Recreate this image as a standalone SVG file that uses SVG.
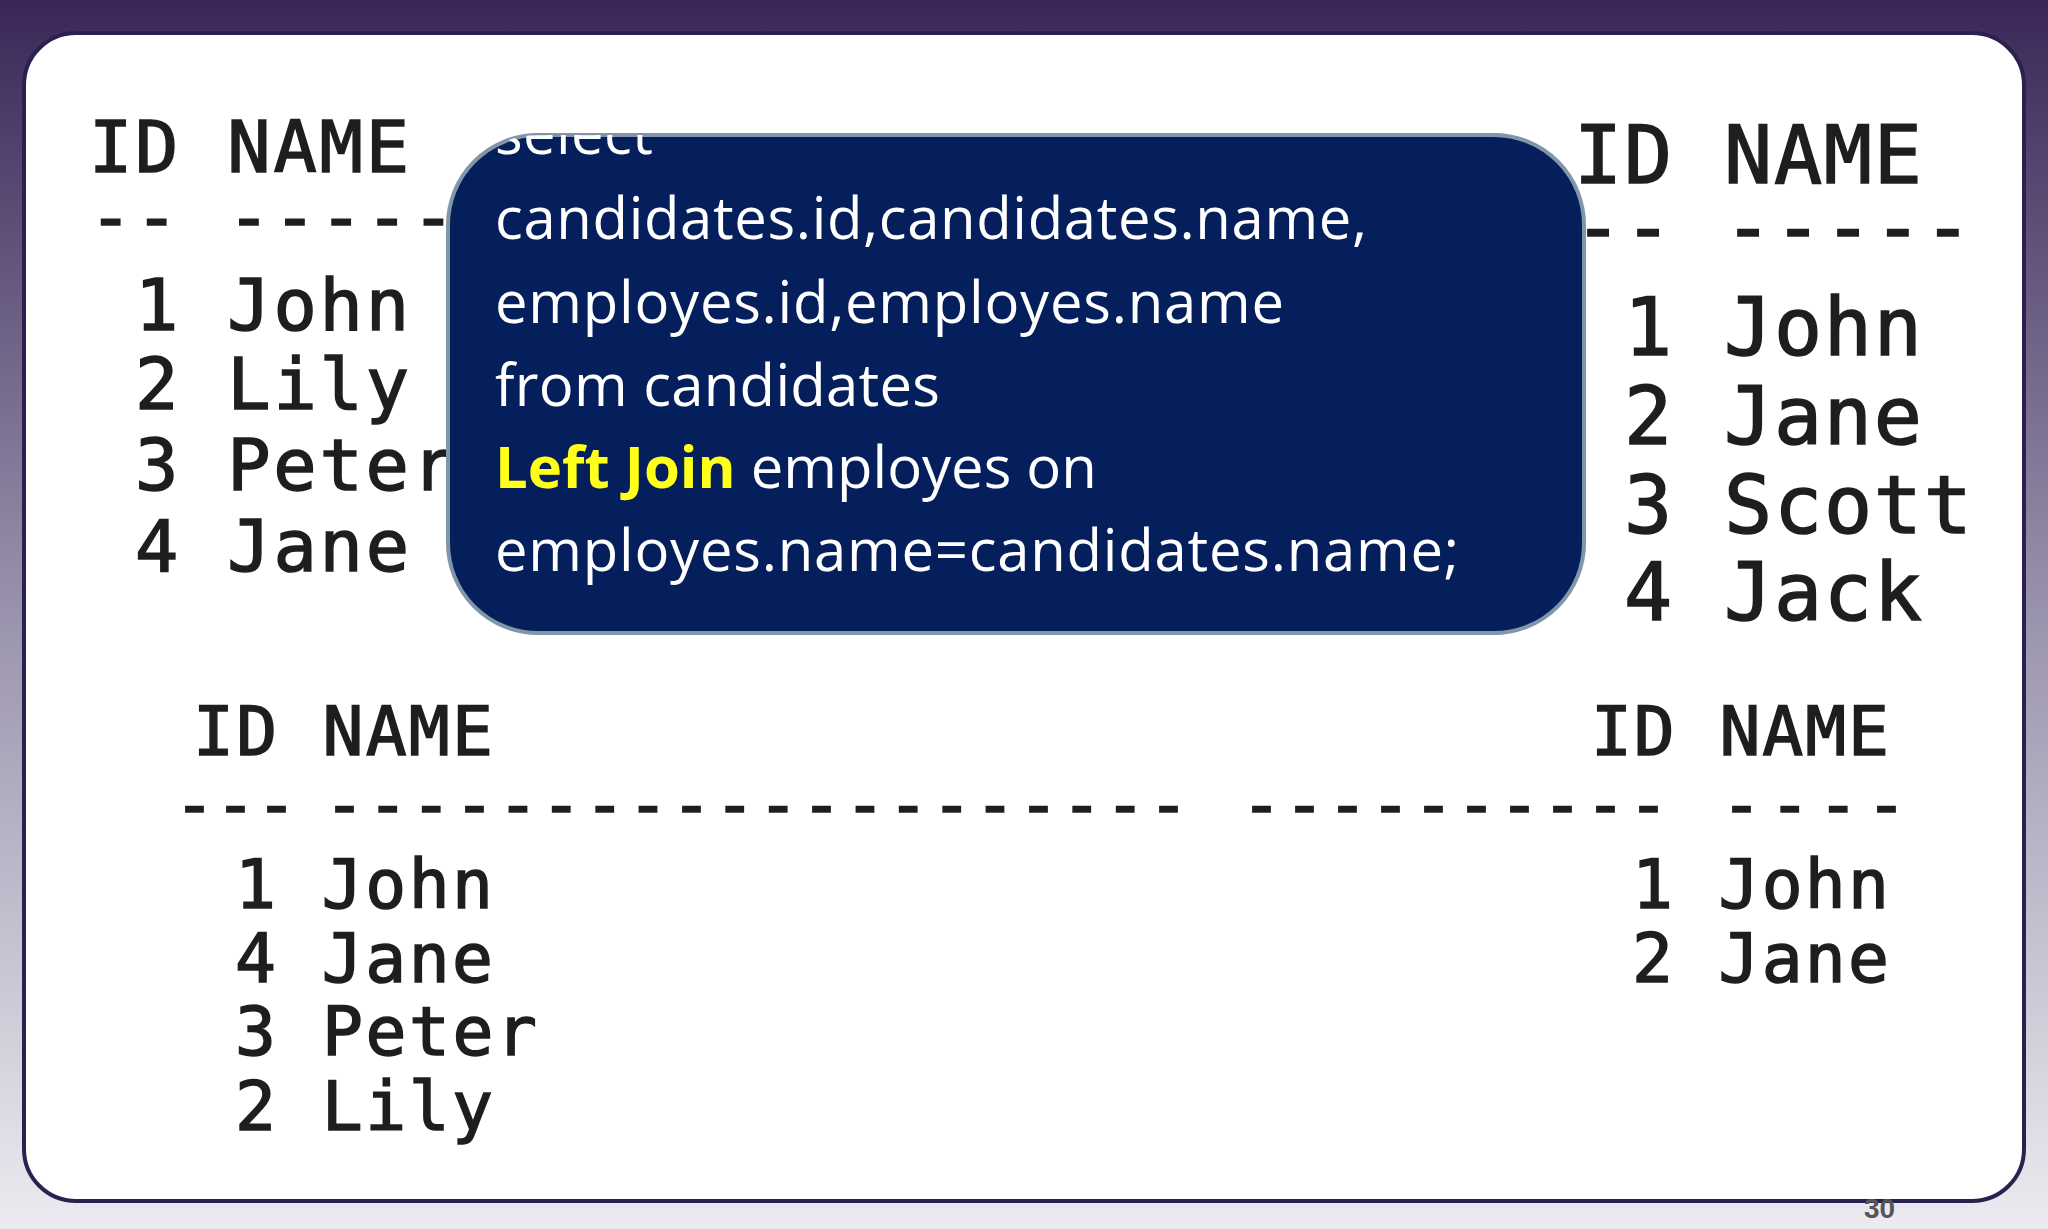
<svg xmlns="http://www.w3.org/2000/svg" width="2048" height="1229" viewBox="0 0 2048 1229">
<defs>
<linearGradient id="bg" x1="0" y1="0" x2="0" y2="1">
<stop offset="0" stop-color="#3a2758"/>
<stop offset="0.5" stop-color="#9a93ad"/>
<stop offset="1" stop-color="#ecebf0"/>
</linearGradient>
<clipPath id="boxclip"><rect x="448" y="135" width="1136" height="498" rx="90"/></clipPath>
</defs>
<style>
.m{font-family:"DejaVu Sans Mono","Liberation Mono",monospace;fill:#1e1e1e;stroke:#1e1e1e;stroke-width:1.5;white-space:pre}
.a{font-size:72px}
.b{font-size:80px}
.c{font-size:68px}
.s{font-family:"Open Sans","Liberation Sans",sans-serif;font-size:58px;fill:#ffffff}
.y{fill:#ffff1a;font-weight:bold}
</style>
<rect width="2048" height="1229" fill="url(#bg)"/>
<rect id="panel" x="24" y="33" width="2000" height="1168" rx="52" fill="#ffffff" stroke="#2c2050" stroke-width="4"/>
<g id="left-table" class="m a">
<text x="89" y="172" xml:space="preserve" textLength="320">ID NAME</text>
<text x="89" y="242" xml:space="preserve" textLength="366">-- -----</text>
<text x="89" y="330" xml:space="preserve" textLength="320"> 1 John</text>
<text x="89" y="409" xml:space="preserve" textLength="320"> 2 Lily</text>
<text x="89" y="490" xml:space="preserve" textLength="366"> 3 Peter</text>
<text x="89" y="571" xml:space="preserve" textLength="320"> 4 Jane</text>
</g>
<g id="right-table" class="m b">
<text x="1574" y="183" xml:space="preserve" textLength="348">ID NAME</text>
<text x="1574" y="255" xml:space="preserve" textLength="398">-- -----</text>
<text x="1574" y="355" xml:space="preserve" textLength="348"> 1 John</text>
<text x="1574" y="444" xml:space="preserve" textLength="348"> 2 Jane</text>
<text x="1574" y="533" xml:space="preserve" textLength="398"> 3 Scott</text>
<text x="1574" y="620" xml:space="preserve" textLength="348"> 4 Jack</text>
</g>
<g id="result" class="m c">
<text x="193" y="755" xml:space="preserve" textLength="300">ID NAME</text>
<text x="1591" y="755" xml:space="preserve" textLength="298">ID NAME</text>
<text x="174" y="828">---</text>
<text x="324" y="828" textLength="865">--------------------</text>
<text x="1241" y="828" textLength="428">----------</text>
<text x="1721" y="828" textLength="186">----</text>
<text x="235" y="908" xml:space="preserve" textLength="258">1 John</text>
<text x="235" y="982" xml:space="preserve" textLength="258">4 Jane</text>
<text x="235" y="1055" xml:space="preserve" textLength="302">3 Peter</text>
<text x="235" y="1130" xml:space="preserve" textLength="258">2 Lily</text>
<text x="1632" y="908" xml:space="preserve" textLength="257">1 John</text>
<text x="1632" y="982" xml:space="preserve" textLength="257">2 Jane</text>
</g>
<g id="sql-box">
<rect x="448" y="135" width="1136" height="498" rx="90" fill="#041f5c" stroke="#8196a8" stroke-width="4"/>
<g clip-path="url(#boxclip)">
<text class="s" x="495" y="154" textLength="158">select</text>
<text class="s" x="495" y="239" textLength="872">candidates.id,candidates.name,</text>
<text class="s" x="495" y="323" textLength="789">employes.id,employes.name</text>
<text class="s" x="495" y="406" textLength="445">from candidates</text>
<text class="s" x="495" y="488"><tspan class="y">Left Join</tspan> employes on</text>
<text class="s" x="495" y="571" textLength="964">employes.name=candidates.name;</text>
</g>
</g>
<text id="page" x="1864" y="1218" font-family="Liberation Sans,sans-serif" font-size="28" font-weight="bold" fill="#555">30</text>
</svg>
